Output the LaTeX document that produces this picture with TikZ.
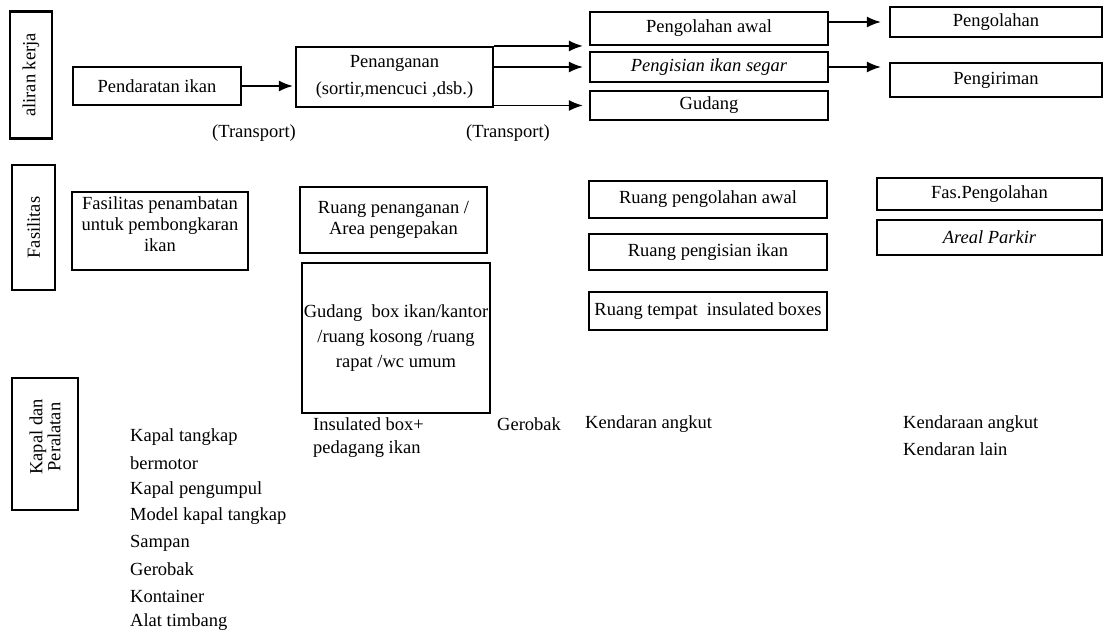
\documentclass[tikz,border=0pt]{standalone}
\usepackage{fontspec}
\setmainfont{Liberation Serif}
\usetikzlibrary{arrows.meta}

\begin{document}
\begin{tikzpicture}[x=1pt,y=-1pt,font=\fontsize{18.5}{22}\selectfont]

	\tikzstyle{mybox}=[draw,line width=2.1pt,inner sep=1pt,align=center]
	\tikzstyle{mylabel}=[mybox,rotate=90]
	\tikzstyle{myarrow}=[line width=1.8pt,-{Latex[length=14pt,width=11pt]}]
	\tikzstyle{mytext}=[anchor=west,inner sep=0pt]

	\useasboundingbox (0,0) rectangle (1104,635);

	% labels on the left
	\node[mylabel,minimum width=127,minimum height=42] (aliran) at (31,75) {aliran kerja};
	\node[mylabel,minimum width=125,minimum height=43] (fas) at (33.5,227.5) {Fasilitas};
	\node[mylabel,minimum width=132,minimum height=66] (kapal) at (45,444) {\hspace*{14pt}Kapal dan\\[-4pt]\hspace*{14pt}Peralatan};

	% aliran kerja
	\node[mybox,minimum width=168,minimum height=38] (pend) at (157,86) {Pendaratan ikan};
	\node[mybox,minimum width=197,minimum height=60] (pen) at (394.5,77) {Penanganan\\[5pt](sortir,mencuci ,dsb.)};
	\node[mybox,minimum width=238,minimum height=33] (awal) at (709,28.5) {Pengolahan awal};
	\node[mybox,minimum width=238,minimum height=30] (isi) at (709,67) {\itshape Pengisian ikan segar};
	\node[mybox,minimum width=238,minimum height=29] (gud) at (709,105.5) {Gudang};
	\node[mybox,minimum width=212,minimum height=30] (olah) at (996,22) {Pengolahan};
	\node[mybox,minimum width=212,minimum height=34] (kirim) at (996,80) {Pengiriman};

	\node (trans1) at (254,133) {(Transport)};
	\node (trans2) at (508,133) {(Transport)};

	\draw[myarrow,shorten >=2pt] (pend.east) -- (pend.east -| pen.west);
	\draw[myarrow,shorten >=6pt] (pen.north east) -- (pen.north east -| awal.west);
	\draw[myarrow,shorten >=6pt] (isi.west -| pen.east) -- (isi.west);
	\draw[myarrow,shorten >=6pt] (gud.west -| pen.east) -- (gud.west);
	\draw[myarrow,shorten >=8pt] (olah.west -| awal.east) -- (olah.west);
	\draw[myarrow,shorten >=8pt] (isi.east) -- (isi.east -| kirim.west);

	% fasilitas
	\node[mybox,minimum width=176,minimum height=78,font=\fontsize{18.5}{21}\selectfont] (tambat) at (160,231) {Fasilitas penambatan\\untuk pembongkaran\\ikan\\[-8pt]};
	\node[mybox,minimum width=187,minimum height=66,font=\fontsize{18.5}{21}\selectfont] (ruangpen) at (393.5,220) {Ruang penanganan /\\Area pengepakan};
	\node[mybox,minimum width=188,minimum height=150] (gudbox) at (396,338) {Gudang\ \ box ikan/kantor\\[3pt]/ruang kosong /ruang\\[3pt]rapat /wc umum};
	\node[mybox,minimum width=238,minimum height=37] (rawal) at (708,199.5) {Ruang pengolahan awal};
	\node[mybox,minimum width=238,minimum height=36] (risi) at (708,252) {Ruang pengisian ikan};
	\node[mybox,minimum width=238,minimum height=38] (rtempat) at (708,311) {Ruang tempat\ \ insulated boxes};
	\node[mybox,minimum width=225,minimum height=32] (faspeng) at (989.5,194) {Fas.Pengolahan};
	\node[mybox,minimum width=225,minimum height=35] (parkir) at (989.5,237.5) {\itshape Areal Parkir};

	% kapal dan peralatan
	\foreach \t [count=\i] in {Kapal tangkap,bermotor,Kapal pengumpul,Model kapal tangkap,Sampan,Gerobak,Kontainer,Alat timbang}
		\node[mytext] (alat\i) at (130,{437+26.5*(\i-1)}) {\t};
	\node[mytext] (box1) at (313,424) {Insulated box+};
	\node[mytext] (box2) at (313,449) {pedagang ikan};
	\node[mytext] (gerobak) at (497,424) {Gerobak};
	\node[mytext] (angkut1) at (585,424) {Kendaran angkut};
	\node[mytext] (angkut2) at (903,424) {Kendaraan angkut};
	\node[mytext] (lain) at (903,449) {Kendaran lain};
\end{tikzpicture}
\end{document}
